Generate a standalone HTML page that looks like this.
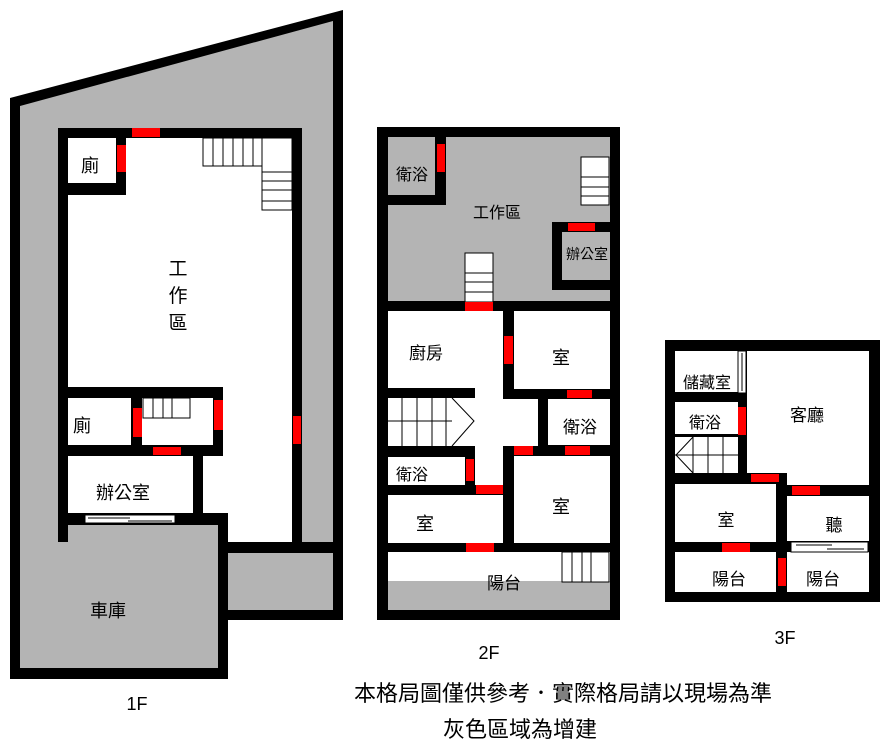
<!DOCTYPE html>
<html><head><meta charset="utf-8"><style>
html,body{margin:0;padding:0;background:#fff;}
svg{display:block;}
text{font-family:"Liberation Sans","Noto Sans CJK TC",sans-serif;fill:#000;text-anchor:middle;}
</style></head><body>
<svg width="889" height="755" viewBox="0 0 889 755" xmlns="http://www.w3.org/2000/svg">
<!-- 1F -->
<polygon points="10,98 343,10 343,620 228,620 228,679 10,679" fill="#000"/>
<polygon points="20,106 333,21 333,610 20,610" fill="#b4b4b4"/>
<rect x="20" y="553" width="198" height="115" fill="#b4b4b4"/>
<rect x="228" y="542" width="115" height="11" fill="#000"/>
<rect x="58" y="128" width="244" height="425" fill="#000"/>
<rect x="68" y="138" width="224" height="404" fill="#fff"/>
<rect x="58" y="513" width="170" height="12" fill="#000"/>
<rect x="20" y="525" width="198" height="143" fill="#b4b4b4"/>
<rect x="218" y="513" width="10" height="166" fill="#000"/>
<rect x="58" y="513" width="10" height="29" fill="#000"/>
<rect x="292" y="128" width="10" height="425" fill="#000"/>
<rect x="116" y="138" width="10" height="57" fill="#000"/>
<rect x="68" y="183" width="58" height="12" fill="#000"/>
<rect x="117" y="145" width="9" height="27" fill="#f00"/>
<rect x="132" y="128" width="28" height="9" fill="#f00"/>
<g stroke="#000" stroke-width="1" fill="none">
<rect x="203" y="138" width="59" height="28"/>
<line x1="213" y1="138" x2="213" y2="166"/><line x1="223" y1="138" x2="223" y2="166"/><line x1="233" y1="138" x2="233" y2="166"/><line x1="243" y1="138" x2="243" y2="166"/><line x1="253" y1="138" x2="253" y2="166"/>
<rect x="262" y="138" width="30" height="72"/>
<line x1="262" y1="172" x2="292" y2="172"/><line x1="262" y1="181" x2="292" y2="181"/><line x1="262" y1="190" x2="292" y2="190"/><line x1="262" y1="201" x2="292" y2="201"/>
</g>
<rect x="58" y="387" width="165" height="69" fill="#000"/>
<rect x="68" y="398" width="63" height="47" fill="#fff"/>
<rect x="142" y="398" width="71" height="47" fill="#fff"/>
<rect x="133" y="408" width="9" height="29" fill="#f00"/>
<rect x="214" y="400" width="9" height="30" fill="#f00"/>
<rect x="153" y="447" width="28" height="8" fill="#f00"/>
<g stroke="#000" stroke-width="1" fill="none">
<rect x="143" y="398" width="47" height="20"/>
<line x1="153" y1="398" x2="153" y2="418"/><line x1="163" y1="398" x2="163" y2="418"/><line x1="172" y1="398" x2="172" y2="418"/>
</g>
<rect x="68" y="456" width="125" height="57" fill="#fff"/>
<rect x="193" y="456" width="10" height="57" fill="#000"/>
<rect x="293" y="416" width="8" height="28" fill="#f00"/>
<rect x="85" y="515" width="90" height="8" fill="#fff" stroke="#000" stroke-width="1"/>
<line x1="88" y1="518" x2="130" y2="518" stroke="#000"/><line x1="128" y1="521" x2="172" y2="521" stroke="#000"/>
<text x="178" y="275" font-size="19">工</text>
<text x="178" y="302" font-size="19">作</text>
<text x="178" y="329" font-size="19">區</text>
<text x="90" y="172" font-size="18">廁</text>
<text x="82" y="432" font-size="18">廁</text>
<text x="123" y="499" font-size="18">辦公室</text>
<text x="108" y="617" font-size="18">車庫</text>
<text x="137" y="710" font-size="18">1F</text>

<!-- 2F -->
<rect x="377" y="127" width="243" height="493" fill="#000"/>
<rect x="388" y="137" width="222" height="164" fill="#b4b4b4"/>
<rect x="435" y="137" width="11" height="68" fill="#000"/>
<rect x="388" y="195" width="58" height="10" fill="#000"/>
<rect x="437" y="144" width="8" height="28" fill="#f00"/>
<rect x="581" y="157" width="28" height="48" fill="#fff" stroke="#000" stroke-width="1"/>
<line x1="581" y1="177" x2="609" y2="177" stroke="#000"/><line x1="581" y1="187" x2="609" y2="187" stroke="#000"/><line x1="581" y1="196" x2="609" y2="196" stroke="#000"/>
<rect x="552" y="222" width="58" height="68" fill="#000"/>
<rect x="562" y="232" width="48" height="48" fill="#b4b4b4"/>
<rect x="568" y="223" width="27" height="8" fill="#f00"/>
<rect x="465" y="253" width="28" height="49" fill="#fff" stroke="#000" stroke-width="1"/>
<line x1="465" y1="273" x2="493" y2="273" stroke="#000"/><line x1="465" y1="282" x2="493" y2="282" stroke="#000"/><line x1="465" y1="292" x2="493" y2="292" stroke="#000"/>
<rect x="465" y="302" width="28" height="9" fill="#f00"/>
<rect x="388" y="311" width="115" height="77" fill="#fff"/>
<rect x="514" y="311" width="96" height="78" fill="#fff"/>
<rect x="475" y="388" width="28" height="97" fill="#fff"/>
<rect x="475" y="399" width="63" height="47" fill="#fff"/>
<rect x="388" y="398" width="87" height="48" fill="#fff"/>
<g stroke="#000" stroke-width="1" fill="none">
<line x1="388" y1="421" x2="452" y2="421"/>
<line x1="402" y1="398" x2="402" y2="446"/><line x1="417" y1="398" x2="417" y2="446"/><line x1="432" y1="398" x2="432" y2="446"/><line x1="446" y1="398" x2="446" y2="446"/>
<polyline points="452,398 474,421 452,446"/>
</g>
<rect x="548" y="399" width="62" height="46" fill="#fff"/>
<rect x="388" y="457" width="77" height="28" fill="#fff"/>
<rect x="466" y="459" width="8" height="22" fill="#f00"/>
<rect x="388" y="495" width="115" height="48" fill="#fff"/>
<rect x="476" y="485" width="27" height="9" fill="#f00"/>
<rect x="514" y="456" width="96" height="87" fill="#fff"/>
<rect x="514" y="446" width="19" height="9" fill="#f00"/>
<rect x="565" y="446" width="25" height="9" fill="#f00"/>
<rect x="567" y="390" width="25" height="8" fill="#f00"/>
<rect x="504" y="336" width="9" height="28" fill="#f00"/>
<rect x="466" y="543" width="28" height="9" fill="#f00"/>
<rect x="388" y="552" width="222" height="29" fill="#fff"/>
<rect x="388" y="581" width="222" height="29" fill="#b4b4b4"/>
<rect x="562" y="552" width="47" height="30" fill="#fff" stroke="#000" stroke-width="1"/>
<line x1="572" y1="552" x2="572" y2="582" stroke="#000"/><line x1="582" y1="552" x2="582" y2="582" stroke="#000"/><line x1="591" y1="552" x2="591" y2="582" stroke="#000"/>
<text x="412" y="180" font-size="16">衛浴</text>
<text x="497" y="218" font-size="16">工作區</text>
<text x="587" y="259" font-size="14">辦公室</text>
<text x="426" y="359" font-size="17">廚房</text>
<text x="561" y="364" font-size="18">室</text>
<text x="580" y="433" font-size="17">衛浴</text>
<text x="412" y="480" font-size="16">衛浴</text>
<text x="561" y="513" font-size="18">室</text>
<text x="425" y="530" font-size="18">室</text>
<text x="504" y="589" font-size="17">陽台</text>
<text x="489" y="659" font-size="18">2F</text>

<!-- 3F -->
<rect x="665" y="340" width="215" height="262" fill="#000"/>
<rect x="675" y="351" width="63" height="41" fill="#fff"/>
<rect x="738" y="351" width="8" height="42" fill="#fff" stroke="#000" stroke-width="1"/>
<line x1="742" y1="353" x2="742" y2="391" stroke="#000"/>
<rect x="747" y="351" width="122" height="122" fill="#fff"/>
<rect x="787" y="351" width="82" height="134" fill="#fff"/>
<rect x="675" y="402" width="63" height="32" fill="#fff"/>
<rect x="738" y="407" width="8" height="28" fill="#f00"/>
<rect x="675" y="437" width="63" height="36" fill="#fff"/>
<g stroke="#000" stroke-width="1" fill="none">
<line x1="675" y1="455" x2="738" y2="455"/>
<line x1="693" y1="437" x2="693" y2="473"/><line x1="708" y1="437" x2="708" y2="473"/><line x1="723" y1="437" x2="723" y2="473"/>
<polyline points="693,437 676,455 693,473"/>
</g>
<rect x="675" y="484" width="101" height="58" fill="#fff"/>
<rect x="751" y="474" width="28" height="8" fill="#f00"/>
<rect x="787" y="496" width="82" height="45" fill="#fff"/>
<rect x="792" y="486" width="28" height="9" fill="#f00"/>
<rect x="722" y="543" width="28" height="9" fill="#f00"/>
<rect x="675" y="552" width="101" height="40" fill="#fff"/>
<rect x="787" y="552" width="82" height="40" fill="#fff"/>
<rect x="778" y="558" width="8" height="28" fill="#f00"/>
<rect x="791" y="542" width="77" height="10" fill="#fff" stroke="#000" stroke-width="1"/>
<line x1="796" y1="545" x2="832" y2="545" stroke="#000"/><line x1="827" y1="549" x2="864" y2="549" stroke="#000"/>
<text x="707" y="388" font-size="16">儲藏室</text>
<text x="705" y="428" font-size="16">衛浴</text>
<text x="807" y="421" font-size="17">客廳</text>
<text x="726" y="526" font-size="17">室</text>
<text x="834" y="531" font-size="17">聽</text>
<text x="729" y="585" font-size="17">陽台</text>
<text x="823" y="585" font-size="17">陽台</text>
<text x="785" y="644" font-size="18">3F</text>

<text x="563" y="701" font-size="22">本格局圖僅供參考．實際格局請以現場為準</text>
<text x="520" y="737" font-size="22">灰色區域為增建</text>
</svg>
</body></html>
